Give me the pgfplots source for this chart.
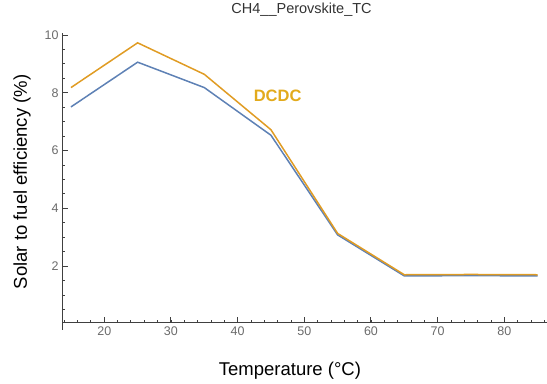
\documentclass[border=0pt]{standalone}
\usepackage{fontspec}
\setmainfont{Liberation Sans}
\usepackage{pgfplots}
\pgfplotsset{compat=1.18}
\definecolor{mblue}{RGB}{94,129,181}
\definecolor{morange}{RGB}{224,156,36}
\definecolor{dcdc}{RGB}{226,170,28}
\definecolor{axgray}{gray}{0.25}
\definecolor{tickgray}{gray}{0.42}
\begin{document}
\begin{tikzpicture}
\begin{axis}[
  scale only axis,
  width=485bp, height=289.7bp,
  xmin=13.66, xmax=86.4,
  ymin=0.04, ymax=10.07,
  axis lines*=left,
  axis line style={axgray, line width=1bp},
  xtick={20,30,...,80},
  ytick={2,4,6,8,10},
  minor xtick={14,16,...,86},
  minor ytick={0.5,1,...,10},
  tick align=inside,
  major tick length=5.5bp,
  minor tick length=3bp,
  major tick style={axgray, line width=1bp},
  minor tick style={axgray, line width=0.9bp},
  /pgf/number format/assume math mode=true,
  ticklabel style={font=\fontsize{12.5bp}{14bp}\selectfont, text=tickgray},
  xticklabel style={yshift=-1bp},
  title={CH4\_\_Perovskite\_TC},
  title style={at={(0.494,1)}, anchor=base, yshift=14bp, font=\fontsize{14.5bp}{16bp}\selectfont, text=black!80},
  xlabel={Temperature (°C)},
  xlabel style={at={(0.47,0)}, anchor=base, yshift=-52.3bp, font=\fontsize{18.5bp}{20bp}\selectfont},
  ylabel={Solar to fuel efficiency (\%)},
  ylabel style={at={(0,0.486)}, anchor=base, yshift=35bp, font=\fontsize{18.5bp}{20bp}\selectfont},
  clip=false,
]
\addplot[mblue, line width=1.5bp] coordinates {
 (15,7.51) (25,9.06) (35,8.18) (45,6.53) (55,3.08) (65,1.66) (75,1.67) (85,1.66)};
\addplot[morange, line width=1.5bp] coordinates {
 (15,8.18) (25,9.73) (35,8.64) (45,6.72) (55,3.13) (65,1.70) (75,1.71) (85,1.70)};
\node[text=dcdc, font=\bfseries\fontsize{16.5bp}{18bp}\selectfont, anchor=base] at (axis cs:46.0,7.71) {DCDC};
\draw[axgray, line width=1bp] (rel axis cs:0,0) -- ([yshift=-7bp]rel axis cs:0,0);
\end{axis}
\pgfresetboundingbox
\path ([shift={(-62bp,-60.3bp)}]current axis.south west) rectangle ([shift={(0bp,33bp)}]current axis.north east);
\end{tikzpicture}
\end{document}
